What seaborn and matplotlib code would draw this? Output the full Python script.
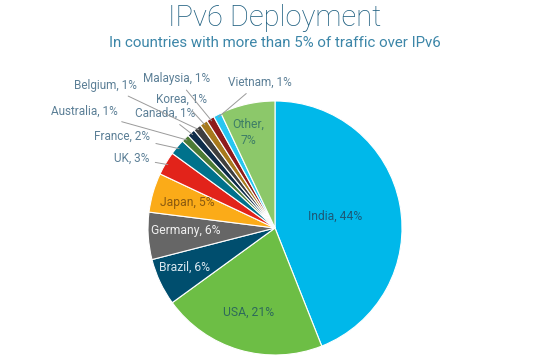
import numpy as np
import matplotlib
matplotlib.use("Agg")
import matplotlib.pyplot as plt
import seaborn as sns

# data (clockwise from 12 o'clock)
countries = ["India", "USA", "Brazil", "Germany", "Japan", "UK", "France",
             "Australia", "Canada", "Belgium", "Korea", "Malaysia", "Vietnam", "Other"]
shares = [44, 21, 6, 6, 5, 3, 2, 1, 1, 1, 1, 1, 1, 7]
colors = ["#00B8EA", "#6DBE45", "#004E6E", "#666666", "#FBAB18", "#E2231A", "#00728C",
          "#4C7A34", "#0E2D4A", "#3F3F3F", "#A7791C", "#8E1B1B", "#27C6F2", "#8CC86A"]
title = "IPv6 Deployment"
subtitle = "In countries with more than 5% of traffic over IPv6"

# label placement: inside (x, y, colour) or outside (x, y, ha) in data units
inside = {
    "India": (0.47, 0.09, "#1C5A78"),
    "USA": (-0.21, -0.66, "#2E6A5A"),
    "Brazil": (-0.71, -0.31, "#D8E6EE"),
    "Germany": (-0.70, -0.02, "#F0F0F0"),
    "Japan": (-0.69, 0.20, "#8A5A10"),
    "Other": (-0.21, 0.75, "#3E7E66"),
}
outside = {
    "UK": (-0.99, 0.55, "right"),
    "France": (-0.985, 0.725, "right"),
    "Australia": (-1.24, 0.92, "right"),
    "Canada": (-0.63, 0.905, "right"),
    "Belgium": (-1.09, 1.125, "right"),
    "Korea": (-0.535, 1.015, "right"),
    "Malaysia": (-0.51, 1.18, "right"),
    "Vietnam": (-0.37, 1.15, "left"),
}

sns.set_theme(style="white")
plt.rcParams["font.family"] = ["Roboto", "DejaVu Sans"]

fig = plt.figure(figsize=(5.5, 3.57), dpi=100)
fig.patch.set_facecolor("white")
cx, cy, r = 275, 228, 127
ax = fig.add_axes([(cx - r) / 550, (357 - cy - r) / 357, 2 * r / 550, 2 * r / 357])

wedges, _ = ax.pie(shares, colors=colors, startangle=90, counterclock=False,
                   wedgeprops=dict(edgecolor="white", linewidth=0.8))
ax.set_xlim(-1, 1)
ax.set_ylim(-1, 1)
ax.set_aspect("equal")

for name, val, w in zip(countries, shares, wedges):
    label = f"{name}, {val}%"
    if name in inside:
        x, y, c = inside[name]
        if name == "Other":
            label = f"{name},\n{val}%"
        ax.text(x, y, label, ha="center", va="center", fontsize=8.7, color=c,
                linespacing=1.3)
    else:
        x, y, ha = outside[name]
        mid = np.deg2rad((w.theta1 + w.theta2) / 2)
        ex, ey = 0.98 * np.cos(mid), 0.98 * np.sin(mid)
        ax.annotate(label, xy=(ex, ey), xytext=(x, y), ha=ha, va="center",
                    fontsize=8.5, color="#5B7F96", annotation_clip=False,
                    arrowprops=dict(arrowstyle="-", color="#9A9A9A", lw=0.7,
                                    shrinkA=2, shrinkB=0))

fig.text(0.5, 1 - 18 / 357, title, ha="center", va="center", fontsize=21,
         color="#1E5F80", fontweight="light")
fig.text(0.5, 1 - 43 / 357, subtitle, ha="center", va="center", fontsize=10.8,
         color="#3C86A8")

fig.savefig("out.png", dpi=100, facecolor="white")
